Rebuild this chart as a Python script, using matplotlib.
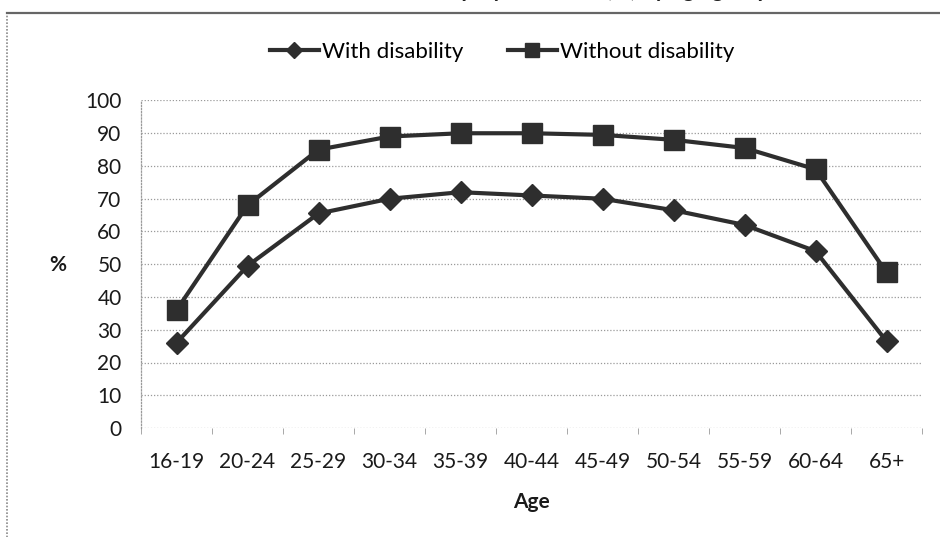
import matplotlib
matplotlib.use("Agg")
import matplotlib.pyplot as plt
from matplotlib.patches import Rectangle
import numpy as np

age_groups = ["16-19", "20-24", "25-29", "30-34", "35-39", "40-44",
              "45-49", "50-54", "55-59", "60-64", "65+"]
with_disability = [26, 49.5, 65.5, 70, 72, 71, 70, 66.5, 62, 54, 26.5]
without_disability = [36, 68, 85, 89, 90, 90, 89.5, 88, 85.5, 79, 47.5]
y_ticks = [0, 10, 20, 30, 40, 50, 60, 70, 80, 90, 100]

plt.rcParams["font.family"] = ["Lato", "DejaVu Sans"]

W, H = 940, 537
fig = plt.figure(figsize=(W / 100, H / 100), dpi=100)
fig.patch.set_facecolor("white")

# outer chart frame
fig.add_artist(Rectangle((7 / W, -0.05), 1.0, (H - 13) / H + 0.05,
                         transform=fig.transFigure, fill=False,
                         edgecolor="#8a8a8a", linewidth=1.2,
                         linestyle=(0, (1, 1))))
fig.add_artist(plt.Line2D([7 / W, 1.0], [(H - 13) / H, (H - 13) / H],
                          transform=fig.transFigure, color="#666666",
                          linewidth=1.6))

# title, sitting just above the top edge of the canvas
fig.text(600 / W, 1.0 + 3.3 / H, "Employment rate (%) by age group",
         ha="center", va="baseline", fontsize=16, fontweight="bold",
         color="#222222")

ax = fig.add_axes([141 / W, (H - 428) / H, 781 / W, 327.5 / H])
x = np.arange(len(age_groups))

ax.plot(x, with_disability, color="#2e2e2e", linewidth=3, marker="D",
        markersize=11, label="With disability")
ax.plot(x, without_disability, color="#2e2e2e", linewidth=3, marker="s",
        markersize=14, label="Without disability")

ax.set_xlim(-0.5, len(age_groups) - 0.5)
ax.set_ylim(0, 100)
ax.set_yticks(y_ticks)
ax.set_xticks(x)
ax.set_xticklabels(age_groups)
ax.set_xticks(np.arange(-0.5, len(age_groups), 1.0), minor=True)

ax.grid(axis="y", color="#9a9a9a", linestyle=(0, (1, 1.5)), linewidth=0.9)
ax.set_axisbelow(True)
for s in ["top", "right", "bottom"]:
    ax.spines[s].set_visible(False)
ax.spines["left"].set_color("#9a9a9a")
ax.spines["left"].set_linestyle((0, (1, 1.5)))
ax.spines["left"].set_linewidth(0.9)

ax.tick_params(axis="y", length=0, pad=14, labelsize=15, labelcolor="#1a1a1a")
ax.tick_params(axis="x", which="major", length=0, pad=17, labelsize=15,
               labelcolor="#1a1a1a")
ax.tick_params(axis="x", which="minor", length=4, color="#9a9a9a",
               direction="out")

ax.set_xlabel("Age", fontsize=15, fontweight="bold", labelpad=15,
              color="#1a1a1a")
fig.text(58 / W, 1 - 265 / H, "%", ha="center", va="center", fontsize=15,
         fontweight="bold", color="#1a1a1a")

ax.legend(loc="center", bbox_to_anchor=((502 - 141) / 781, (428 - 52) / 327.5),
          ncol=2, frameon=False, fontsize=16, handlelength=2.2,
          handletextpad=0.15, columnspacing=2.0, markerscale=0.75)

fig.savefig("out.png", dpi=100, facecolor="white")
